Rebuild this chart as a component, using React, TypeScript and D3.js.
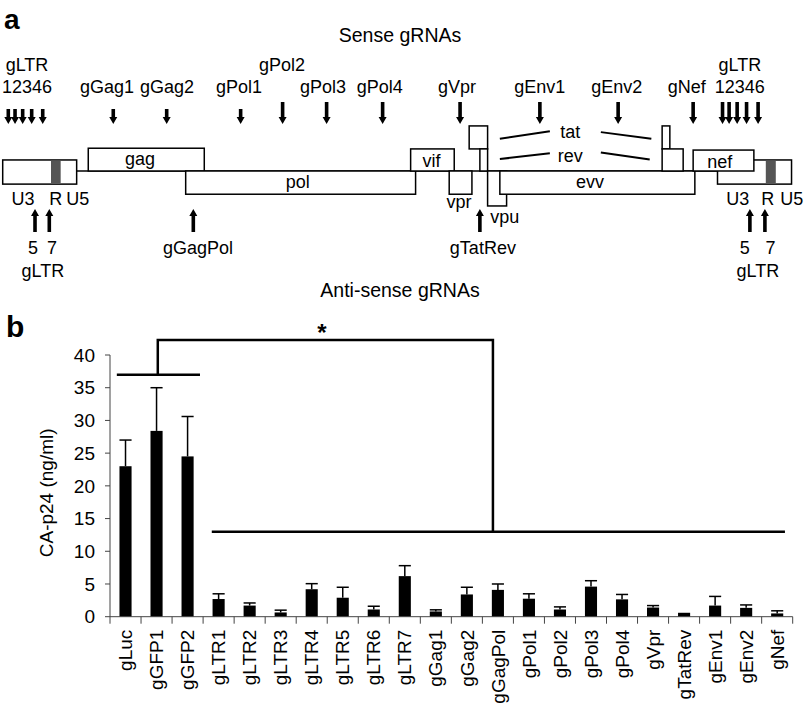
import * as d3 from 'd3'

// ---- panel b data ----
const categories = [
  'gLuc', 'gGFP1', 'gGFP2', 'gLTR1', 'gLTR2', 'gLTR3', 'gLTR4', 'gLTR5', 'gLTR6', 'gLTR7',
  'gGag1', 'gGag2', 'gGagPol', 'gPol1', 'gPol2', 'gPol3', 'gPol4', 'gVpr', 'gTatRev',
  'gEnv1', 'gEnv2', 'gNef',
]
const meanValues = [
  23.0, 28.4, 24.5, 2.7, 1.7, 0.65, 4.2, 2.9, 1.1, 6.2,
  0.8, 3.4, 4.1, 2.75, 1.1, 4.6, 2.65, 1.4, 0.6,
  1.7, 1.35, 0.5,
]
const errorValues = [
  4.0, 6.6, 6.1, 0.8, 0.4, 0.35, 0.85, 1.6, 0.5, 1.6,
  0.25, 1.1, 0.9, 0.75, 0.4, 0.9, 0.75, 0.3, 0,
  1.4, 0.45, 0.4,
]
const yTicks = [0, 5, 10, 15, 20, 25, 30, 35, 40]

// significance brackets: x in category units, y in ng/ml
const controlBar = { x0: 0.22, x1: 2.9, y: 37 }
const treatedBar = { x0: 3.28, x1: 21.75, y: 13 }
const bracket = { xLeft: 1.54, xRight: 12.34, yTop: 42.3 }
const starPos = { x: 6.83, y: 42.3 }

// ---- panel a data (genome coordinates, nt) ----
// rows: 0 = genome line, 1 unit = one reading-frame box height
const genes = [
  { name: 'ltr5', start: 0, end: 911, top: -0.48, bottom: 0.57 },
  { name: 'gag', start: 1054, end: 2483, top: -0.99, bottom: 0 },
  { name: 'pol', start: 2254, end: 5086, top: 0, bottom: 1.01 },
  { name: 'vif', start: 5025, end: 5562, top: -0.96, bottom: 0 },
  { name: 'vpr', start: 5500, end: 5780, top: 0, bottom: 1.01 },
  { name: 'tat1', start: 5746, end: 5973, top: -1.96, bottom: -0.96 },
  { name: 'rev1', start: 5878, end: 5973, top: -0.96, bottom: 0 },
  { name: 'vpu', start: 5973, end: 6207, top: 0, bottom: 1.52 },
  { name: 'env', start: 6124, end: 8526, top: 0, bottom: 1.01 },
  { name: 'tat2', start: 8123, end: 8218, top: -1.96, bottom: -0.96 },
  { name: 'rev2', start: 8123, end: 8382, top: -0.96, bottom: 0 },
  { name: 'ltr3', start: 8805, end: 9717, top: -0.48, bottom: 0.57 },
  { name: 'nef', start: 8505, end: 9253, top: -0.91, bottom: 0 },
]
const rBands = [
  { start: 595, end: 714 },
  { start: 9400, end: 9523 },
]
const splices = [
  { x0: 6124, y0: -1.4, x1: 6740, y1: -1.73 },
  { x0: 7368, y0: -1.69, x1: 7990, y1: -1.4 },
  { x0: 6124, y0: -0.52, x1: 6740, y1: -0.77 },
  { x0: 7368, y0: -0.8, x1: 7970, y1: -0.5 },
]
const senseSites = [69, 152, 246, 357, 493, 1362, 2020, 2931, 3448, 3990, 4680, 5634, 6617, 7581, 8505, 8867, 8948, 9047, 9163, 9305]
const antisenseSites = [398, 574, 2348, 5878, 9204, 9389]
const geneTextLabels = [
  { text: 'gag', pos: 1691, row: -0.26 },
  { text: 'pol', pos: 3636, row: 0.74 },
  { text: 'vif', pos: 5283, row: -0.18 },
  { text: 'evv', pos: 7233, row: 0.74 },
  { text: 'nef', pos: 8833, row: -0.13 },
  { text: 'tat', pos: 6990, row: -1.44 },
  { text: 'rev', pos: 6990, row: -0.4 },
  { text: 'vpr', pos: 5620, row: 1.61 },
  { text: 'vpu', pos: 6186, row: 2.26 },
]
const ltrLabels = [
  { text: 'U3', pos: 250 },
  { text: 'R', pos: 654 },
  { text: 'U5', pos: 924 },
  { text: 'U3', pos: 9055 },
  { text: 'R', pos: 9425 },
  { text: 'U5', pos: 9720 },
]
const senseLabels = [
  { text: 'gLTR', pos: 299, line: 0 },
  { text: '12346', pos: 299, line: 1 },
  { text: 'gGag1', pos: 1285, line: 1 },
  { text: 'gGag2', pos: 2023, line: 1 },
  { text: 'gPol1', pos: 2910, line: 1 },
  { text: 'gPol2', pos: 3440, line: 0 },
  { text: 'gPol3', pos: 3945, line: 1 },
  { text: 'gPol4', pos: 4646, line: 1 },
  { text: 'gVpr', pos: 5595, line: 1 },
  { text: 'gEnv1', pos: 6617, line: 1 },
  { text: 'gEnv2', pos: 7565, line: 1 },
  { text: 'gNef', pos: 8427, line: 1 },
  { text: 'gLTR', pos: 9080, line: 0 },
  { text: '12346', pos: 9080, line: 1 },
]
const antisenseLabels = [
  { text: '5', pos: 373, line: 0 },
  { text: '7', pos: 607, line: 0 },
  { text: 'gLTR', pos: 496, line: 1 },
  { text: 'gGagPol', pos: 2405, line: 0 },
  { text: 'gTatRev', pos: 5915, line: 0 },
  { text: '5', pos: 9142, line: 0 },
  { text: '7', pos: 9459, line: 0 },
  { text: 'gLTR', pos: 9302, line: 1 },
]

const FONT = '"Liberation Sans", Arial, Helvetica, sans-serif'

// arrow helpers: shaft + triangular head
function downArrow(x: number, y0: number, y1: number) {
  const h = 7
  return `M${x - 1.8},${y0}H${x + 1.8}V${y1 - h}H${x + 4}L${x},${y1}L${x - 4},${y1 - h}H${x - 1.8}Z`
}
function upArrow(x: number, y0: number, y1: number) {
  const h = 7
  return `M${x - 1.8},${y1}H${x + 1.8}V${y0 + h}H${x + 4}L${x},${y0}L${x - 4},${y0 + h}H${x - 1.8}Z`
}

function GenomePanel() {
  const gx = d3.scaleLinear().domain([0, 9719]).range([2.7, 791.7])
  const gy = d3.scaleLinear().domain([0, 1]).range([171, 194])
  const ltr5 = genes[0]
  const ltr3 = genes.find(g => g.name === 'ltr3')!
  return (
    <g fontFamily={FONT} fontSize={18} fill="#000">
      <text x={4} y={29} fontSize={28} fontWeight="bold">a</text>
      <text x={400} y={42} textAnchor="middle" fontSize={19.5}>Sense gRNAs</text>
      <text x={400} y={297} textAnchor="middle" fontSize={19.5}>Anti-sense gRNAs</text>

      <line x1={gx(ltr5.end)} x2={gx(ltr3.start)} y1={gy(0)} y2={gy(0)} stroke="#000" strokeWidth={1.5} />
      {genes.map(g => (
        <rect key={g.name} x={gx(g.start)} y={gy(g.top)} width={gx(g.end) - gx(g.start)}
          height={gy(g.bottom) - gy(g.top)} fill="#fff" stroke="#000" strokeWidth={1.5} />
      ))}
      {rBands.map((b, i) => (
        <rect key={i} x={gx(b.start)} y={gy(-0.48) + 0.75} width={gx(b.end) - gx(b.start)}
          height={gy(0.57) - gy(-0.48) - 1.5} fill="#555" />
      ))}
      {splices.map((s, i) => (
        <line key={i} x1={gx(s.x0)} y1={gy(s.y0)} x2={gx(s.x1)} y2={gy(s.y1)} stroke="#000" strokeWidth={2} />
      ))}
      {geneTextLabels.map((l, i) => (
        <text key={i} x={gx(l.pos)} y={gy(l.row)} textAnchor="middle">{l.text}</text>
      ))}
      {ltrLabels.map((l, i) => (
        <text key={i} x={gx(l.pos)} y={205} textAnchor="middle">{l.text}</text>
      ))}
      {senseSites.map((s, i) => (
        <path key={i} d={downArrow(gx(s), i < 8 ? 109 : 102, 124)} fill="#000" />
      ))}
      {senseLabels.map((l, i) => (
        <text key={i} x={gx(l.pos)} y={l.line === 0 ? 71 : 93} textAnchor="middle">{l.text}</text>
      ))}
      {antisenseSites.map((s, i) => (
        <path key={i} d={upArrow(gx(s), 209, 232)} fill="#000" />
      ))}
      {antisenseLabels.map((l, i) => (
        <text key={i} x={gx(l.pos)} y={l.line === 0 ? 254 : 277} textAnchor="middle">{l.text}</text>
      ))}
    </g>
  )
}

function BarPanel() {
  const x = d3.scaleBand<string>().domain(categories).range([110, 792.7]).paddingInner(0.61).paddingOuter(0.305)
  const xc = d3.scaleLinear().domain([0, categories.length]).range([110, 792.7])
  const y = d3.scaleLinear().domain([0, 40]).range([616.7, 355])
  const bw = x.bandwidth()
  const ticksX = d3.range(categories.length + 1)
  return (
    <g fontFamily={FONT} fill="#000">
      <text x={6} y={337} fontSize={30} fontWeight="bold">b</text>
      <text transform={`translate(53,${y(20) + 7}) rotate(-90)`} textAnchor="middle" fontSize={19}>CA-p24 (ng/ml)</text>

      {/* y axis */}
      <line x1={110} x2={110} y1={y(0)} y2={y(40)} stroke="#444" strokeWidth={1} />
      {yTicks.map(t => (
        <g key={t}>
          <line x1={105} x2={110} y1={y(t)} y2={y(t)} stroke="#444" strokeWidth={1} />
          <text x={95} y={y(t)} dy="0.35em" textAnchor="end" fontSize={19}>{t}</text>
        </g>
      ))}

      {/* bars + error bars */}
      {categories.map((c, i) => {
        const cx = (x(c) as number) + bw / 2
        const top = y(meanValues[i])
        const et = y(meanValues[i] + errorValues[i])
        return (
          <g key={c}>
            <rect x={x(c)} y={top} width={bw} height={y(0) - top} fill="#000" />
            {errorValues[i] > 0 && (
              <>
                <line x1={cx} x2={cx} y1={top} y2={et} stroke="#000" strokeWidth={1.5} />
                <line x1={cx - bw / 2} x2={cx + bw / 2} y1={et} y2={et} stroke="#000" strokeWidth={1.5} />
              </>
            )}
          </g>
        )
      })}

      {/* x axis */}
      <line x1={110} x2={792.7} y1={y(0)} y2={y(0)} stroke="#444" strokeWidth={1} />
      {ticksX.map(t => (
        <line key={t} x1={xc(t)} x2={xc(t)} y1={y(0)} y2={y(0) + 7} stroke="#444" strokeWidth={1} />
      ))}
      {categories.map(c => (
        <text key={c} transform={`translate(${(x(c) as number) + bw / 2},${y(0) + 13}) rotate(-90)`}
          dy="0.35em" textAnchor="end" fontSize={19}>{c}</text>
      ))}

      {/* significance */}
      <g stroke="#000" strokeWidth={2.5} fill="none">
        <line x1={xc(controlBar.x0)} x2={xc(controlBar.x1)} y1={y(controlBar.y)} y2={y(controlBar.y)} />
        <line x1={xc(treatedBar.x0)} x2={xc(treatedBar.x1)} y1={y(treatedBar.y)} y2={y(treatedBar.y)} />
        <polyline points={`${xc(bracket.xLeft)},${y(controlBar.y)} ${xc(bracket.xLeft)},${y(bracket.yTop)} ${xc(bracket.xRight)},${y(bracket.yTop)} ${xc(bracket.xRight)},${y(treatedBar.y)}`} />
      </g>
      <text x={xc(starPos.x)} y={y(starPos.y) + 1} textAnchor="middle" fontSize={24} fontWeight="bold">*</text>
    </g>
  )
}

export default function App() {
  return (
    <div style={{ position: 'absolute', left: 0, top: 0 }}>
      <svg width={806} height={709} style={{ display: 'block', background: '#fff' }}>
        <rect width={806} height={709} fill="#fff" />
        <GenomePanel />
        <BarPanel />
      </svg>
    </div>
  )
}
